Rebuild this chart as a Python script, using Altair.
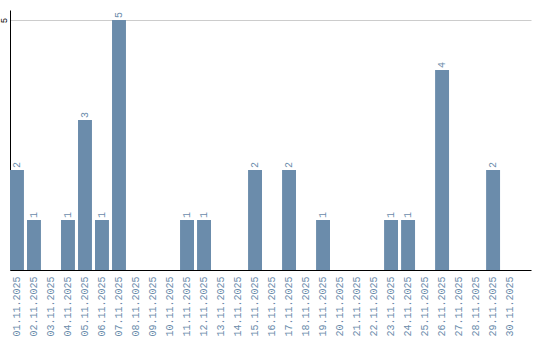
import altair as alt
import pandas as pd

dates = [f"{d:02d}.11.2025" for d in range(1, 31)]
counts = [2, 1, 0, 1, 3, 1, 5, 0, 0, 0,
          1, 1, 0, 0, 2, 0, 2, 0, 1, 0,
          0, 0, 1, 1, 0, 4, 0, 0, 2, 0]

df = pd.DataFrame({"date": dates, "count": counts})

BAR = "#6b8cab"
FONT = "Liberation Mono"

x = alt.X("date:N", sort=dates, title=None,
          scale=alt.Scale(paddingInner=0.18, paddingOuter=0.41, align=0),
          axis=alt.Axis(labelAngle=270, labelColor=BAR, labelFont=FONT, labelFontSize=10,
                        ticks=False, domainColor="black", labelPadding=6))
y = alt.Y("count:Q", title=None, scale=alt.Scale(domain=[0, 5.2], nice=False),
          axis=alt.Axis(values=[5], labelAngle=270, labelFont=FONT, labelFontSize=9,
                        labelColor="black", ticks=False, domainColor="black",
                        labelPadding=2, labelAlign="center", labelBaseline="bottom",
                        gridColor="#cccccc"))

bars = alt.Chart(df).mark_bar(color=BAR).encode(x=x, y=y)
labels = alt.Chart(df).transform_filter("datum.count > 0").mark_text(
    angle=270, align="left", baseline="middle", dx=2, color=BAR, font=FONT, fontSize=10
).encode(x=alt.X("date:N", sort=dates), y="count:Q", text="count:Q")

chart = (bars + labels).properties(
    width=521, height=260,
    autosize=alt.AutoSizeParams(type="none"),
    padding={"left": 10, "top": 10, "right": 9, "bottom": 70},
).configure_view(stroke=None).configure_axisY(grid=True).configure_axisX(grid=False)

chart.save("out.html", embed_options={"renderer": "svg", "actions": False})
